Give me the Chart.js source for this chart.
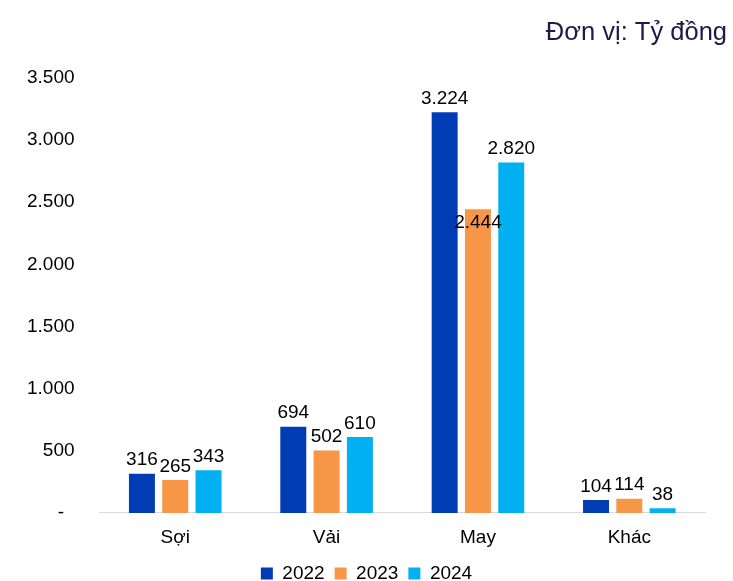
<!DOCTYPE html>
<html>
<head>
<meta charset="utf-8">
<script src="https://cdn.jsdelivr.net/npm/chart.js@4"></script>
<style>
  body { margin: 0; background: #fff; overflow: hidden; }
  #wrap { width: 733px; height: 581px; }
</style>
</head>
<body>
<div id="wrap"><canvas id="myChart"></canvas></div>
<script>
// setup
const categories = ['Sợi', 'Vải', 'May', 'Khác'];
const years = ['2022', '2023', '2024'];
const values2022 = [316, 694, 3224, 104];
const values2023 = [265, 502, 2444, 114];
const values2024 = [343, 610, 2820, 38];
const yTicks = [0, 500, 1000, 1500, 2000, 2500, 3000, 3500];
const colors = ['#003DB5', '#F79646', '#00B0F0'];
const unitText = 'Đơn vị: Tỷ đồng';

const FONT = 'Arial, "Liberation Sans", sans-serif';
const fmt = v => v === 0 ? '-' : v.toLocaleString('de-DE');

// "2.444" sits lower in the original, overlapping its bar
const labelNudge = { '1-2': 27 };

const valueLabels = {
  id: 'valueLabels',
  afterDatasetsDraw(chart) {
    const ctx = chart.ctx;
    ctx.save();
    ctx.font = '19px ' + FONT;
    ctx.fillStyle = '#000';
    ctx.textAlign = 'center';
    ctx.textBaseline = 'bottom';
    chart.data.datasets.forEach((ds, i) => {
      chart.getDatasetMeta(i).data.forEach((bar, j) => {
        const dy = labelNudge[i + '-' + j] || 0;
        ctx.fillText(fmt(ds.data[j]), bar.x, bar.y - 4 + dy);
      });
    });
    ctx.restore();
  }
};

// unit note at the top right, wider than the plot area
const unitNote = {
  id: 'unitNote',
  afterDraw(chart) {
    const ctx = chart.ctx;
    ctx.save();
    ctx.font = '25.5px ' + FONT;
    ctx.fillStyle = '#1B1B4B';
    ctx.textAlign = 'right';
    ctx.textBaseline = 'middle';
    ctx.fillText(unitText, chart.width - 6, 33);
    ctx.restore();
  }
};

// legend in the original is centred a bit right of the plot centre
const legendShift = {
  id: 'legendShift',
  afterLayout(chart) {
    chart.legend.left += 9;
    chart.legend.right += 9;
  }
};

const data = {
  labels: categories,
  datasets: [values2022, values2023, values2024].map((vals, i) => ({
    label: years[i],
    data: vals,
    backgroundColor: colors[i],
    categoryPercentage: 0.66,
    barPercentage: 0.78
  }))
};

// config
const config = {
  type: 'bar',
  data,
  options: {
    responsive: true,
    maintainAspectRatio: false,
    animation: false,
    layout: { padding: { left: 10, right: 28, top: 78, bottom: -12 } },
    plugins: {
      legend: {
        position: 'bottom',
        labels: {
          color: '#000',
          font: { family: FONT, size: 19 },
          boxWidth: 12,
          boxHeight: 12,
          padding: 10
        }
      },
      tooltip: { enabled: false }
    },
    scales: {
      x: {
        grid: { display: false },
        border: { color: '#D9D9D9', width: 1 },
        ticks: { color: '#000', font: { family: FONT, size: 19, lineHeight: 0.9 }, padding: 8 }
      },
      y: {
        min: 0,
        max: 3500,
        afterBuildTicks: axis => { axis.ticks = yTicks.map(v => ({ value: v })); },
        grid: { display: false },
        border: { display: false },
        ticks: {
          color: '#000',
          font: { family: FONT, size: 19 },
          padding: 17,
          // accounting-style dash for zero sits a little left of the numbers
          callback: v => v === 0 ? '-  ' : fmt(v)
        }
      }
    }
  },
  plugins: [valueLabels, unitNote, legendShift]
};

// render init block
const myChart = new Chart(document.getElementById('myChart'), config);
</script>
</body>
</html>
